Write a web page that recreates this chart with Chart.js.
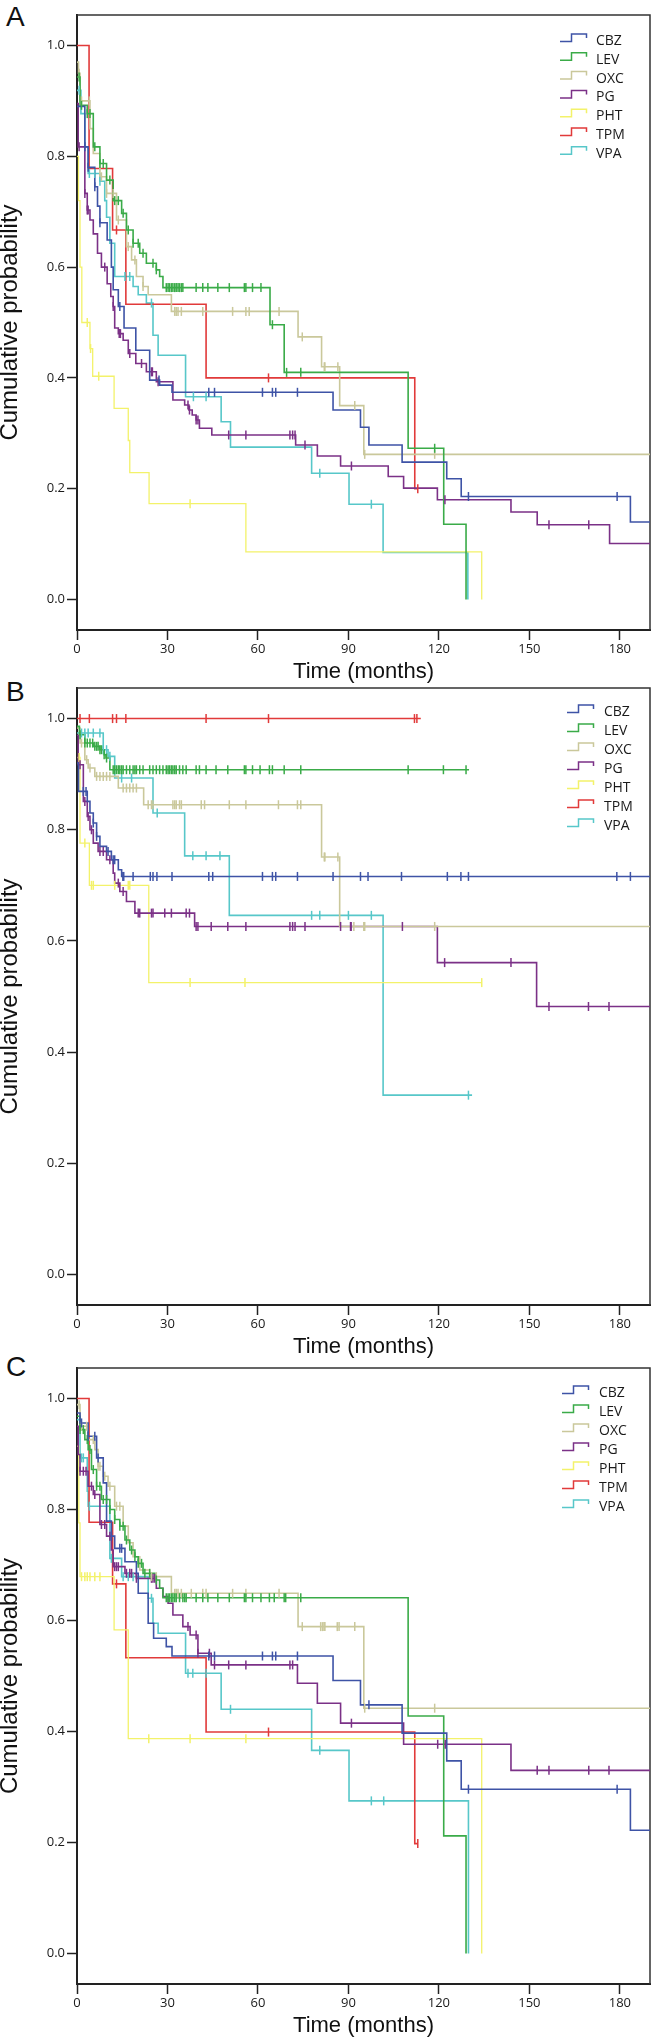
<!DOCTYPE html>
<html>
<head>
<meta charset="utf-8">
<script src="https://cdn.jsdelivr.net/npm/chart.js@4.4.1/dist/chart.umd.min.js"></script>
<style>
  body { margin: 0; background: #fff; width: 656px; height: 2040px; position: relative; overflow: hidden; }
  canvas { position: absolute; left: 0; }
  .letter { position: absolute; left: 6px; font: 28px "Liberation Sans", Arial, sans-serif; line-height: 28px; color: #111; }
</style>
</head>
<body>
<div class="letter" style="top:3px">A</div>
<div class="letter" style="top:678px">B</div>
<div class="letter" style="top:1353px">C</div>
<canvas id="chartA" width="656" height="685" style="top:0px"></canvas>
<canvas id="chartB" width="656" height="685" style="top:675px"></canvas>
<canvas id="chartC" width="656" height="685" style="top:1354px"></canvas>
<script>
// ---- data ----
const drugs = ['CBZ', 'LEV', 'OXC', 'PG', 'PHT', 'TPM', 'VPA'];
const months = [0, 30, 60, 90, 120, 150, 180];
const probTicks = [0, 0.2, 0.4, 0.6, 0.8, 1.0];

// step curves: [time, survival after the step]
// panel A
const cbzA = [[0,0.89],[2.6,0.817],[3.7,0.78],[5.9,0.745],[6.8,0.71],[7.6,0.68],[10,0.649],[11.4,0.6],[12,0.559],[13.7,0.529],[15.6,0.49],[19.5,0.45],[24.1,0.396],[27.4,0.387],[31.5,0.374],[84.9,0.342],[94,0.311],[96.8,0.279],[107.8,0.248],[122.6,0.218],[127.4,0.186],[183.5,0.14],[190,0.14]];
const levA = [[0,0.943],[1,0.892],[3.4,0.877],[5.4,0.817],[7.6,0.787],[9.8,0.757],[12,0.72],[14.8,0.697],[16.4,0.667],[18.6,0.643],[20.8,0.625],[23,0.607],[26.3,0.595],[27.4,0.583],[28.5,0.563],[64,0.496],[68.7,0.41],[109.8,0.273],[121.6,0.136],[129,0]];
const oxcA = [[0,0.97],[0.5,0.95],[1,0.9],[4.3,0.85],[5.4,0.805],[7.6,0.763],[9.8,0.733],[13.1,0.685],[16.4,0.637],[18.1,0.613],[19.7,0.583],[21.9,0.565],[23.6,0.55],[31.3,0.52],[73.3,0.474],[81.1,0.42],[87.1,0.35],[95.1,0.262],[190,0.262]];
const pgA = [[0,0.895],[0.4,0.817],[2.6,0.733],[3.4,0.703],[4.3,0.685],[5.4,0.66],[6.8,0.625],[8.1,0.6],[10,0.57],[11.2,0.547],[12,0.529],[12.5,0.49],[13.7,0.48],[15.3,0.468],[17,0.444],[19.5,0.426],[23,0.411],[26.3,0.393],[31.8,0.36],[35.7,0.351],[37.1,0.342],[38.2,0.333],[39.5,0.324],[40.6,0.309],[44.7,0.297],[72.5,0.279],[79.7,0.259],[87.4,0.241],[103.2,0.222],[108.3,0.201],[119.5,0.18],[143.9,0.158],[152.6,0.135],[176.6,0.101],[190,0.101]];
const phtA = [[0,0.8],[0.5,0.72],[1,0.6],[1.6,0.5],[4.3,0.453],[5.2,0.403],[12.3,0.345],[17,0.287],[17.5,0.229],[23.9,0.173],[56,0.086],[134.2,0]];
const tpmA = [[0,1],[4,0.778],[11.8,0.667],[16.2,0.533],[42.8,0.4],[112,0.2],[113,0.2]];
const vpaA = [[0,0.919],[1.3,0.877],[2.6,0.817],[3.7,0.769],[7.6,0.755],[9.2,0.72],[9.8,0.69],[10.9,0.643],[12.5,0.583],[18.6,0.565],[20.3,0.55],[23,0.535],[25.2,0.477],[26.9,0.441],[36,0.366],[47.8,0.321],[50.9,0.275],[77.8,0.228],[90.2,0.172],[101.5,0.085],[129.6,0]];
// censored times, panel A
const cbzACens = [2.6,3.7,5.9,7.6,14.2,27.2,43.7,45.6,61.5,64.8,65.9,73.1,129.8,179.1];
const levACens = [0.7,1.5,3.4,4.3,5.9,7.6,8.7,10.9,12.5,13.7,15.3,17,18.6,20.3,21.9,25.2,26.3,29.6,30.2,30.7,31.3,31.8,32.4,32.9,33.5,34,34.6,35.1,39.5,41.7,43.4,46.7,50.5,55.5,56,58.2,61,64.8,69.5,74.2,118.6];
const oxcACens = [0.7,1.5,4.1,8.1,9.8,12,13.7,17,19.2,21.9,32.4,32.9,33.5,34.6,41.7,51.6,56,57.1,67,74.7,82,82.2,86.5,92.1,95.4,118.6];
const pgACens = [0.7,2.6,3.4,3.7,9.2,12,14,14.4,17.5,21.4,24.7,25,26.9,36.8,37.3,39.5,40.1,50.3,56,70.6,71.5,72.3,75.6,91,122,156.5,169.7];
const phtACens = [3.4,4.5,7.2,37.5];
const tpmACens = [13.1,63.5,113];
const vpaACens = [0.7,4.1,5.9,7.6,15.9,17.5,24.7,38.6,42.8,80.5,97.6];

// panel B
const cbzB = [[0,0.92],[0.5,0.869],[3.4,0.851],[4.3,0.83],[5.4,0.812],[6.5,0.788],[7.6,0.77],[9.8,0.761],[11.4,0.746],[13.7,0.728],[14.8,0.716],[190,0.716]];
const levB = [[0,0.986],[0.8,0.971],[2.6,0.956],[5.4,0.95],[7.6,0.944],[9,0.935],[9.6,0.929],[10.9,0.908],[130,0.908]];
const oxcB = [[0,0.983],[1,0.956],[2.6,0.926],[3.7,0.911],[5.9,0.896],[13.7,0.875],[22.1,0.845],[81.1,0.751],[87.1,0.626],[190,0.626]];
const pgB = [[0,0.97],[0.4,0.917],[2.1,0.851],[3.4,0.824],[4.3,0.8],[5.4,0.776],[7,0.761],[9.8,0.746],[12,0.722],[12.5,0.704],[14.2,0.689],[16.4,0.671],[19.2,0.65],[39,0.626],[119.5,0.561],[152.4,0.482],[190,0.482]];
const phtB = [[0,0.93],[1,0.776],[4.1,0.7],[23.8,0.525],[134.2,0.525]];
const tpmB = [[0,1],[114,1]];
const vpaB = [[0,0.974],[8.7,0.944],[10.3,0.932],[12.5,0.893],[25.2,0.83],[35.7,0.753],[50.5,0.646],[101.5,0.3225],[131,0.3225]];
const cbzBCens = [2.1,3,5.4,6.5,10.3,12,12.5,15.2,15.5,18.6,24.3,25.2,26.5,31.5,43.7,45,61.5,64.8,65.9,73.1,84.9,94,96.5,107.6,122.8,127.3,129.8,179,183.5];
const levBCens = [1,2.6,3.4,4.3,5.2,5.9,6.5,7,7.6,8.1,9,9.8,12,12.5,13.1,13.7,14.2,14.8,15.3,16.4,17.5,18.6,19.2,19.7,20.8,21.9,24.1,25.2,26.3,27.4,28.5,29.6,30.2,30.7,31.3,31.8,32.4,32.9,34,35.1,36.2,39.5,40.6,42.8,46.1,50,55.5,56,58.2,60.7,63.8,64.8,68.7,74.2,109.8,121.5,129];
const oxcBCens = [1.5,3.2,4.3,6.5,7.6,8.7,9.8,10.9,15.3,16.4,17.5,18.6,19.7,23.6,24.7,25.2,31.8,32.4,32.9,34,34.6,41.2,42.3,50.5,56,66.8,73.1,74.2,82,82.2,86.5,91.8,95.1,95.4,118.6];
const pgBCens = [1,2.6,3.7,4.8,7.6,8.7,10.9,13.7,15.3,20.3,20.8,24.7,25.2,29.1,31.3,36.2,37.3,39.5,40.1,44.5,50,56,70.6,71.5,72.3,75.6,87.4,90.7,90.9,107.9,121.9,143.9,156.5,169.6,176.4];
const phtBCens = [0.7,2.6,4.8,5.4,12.5,17,17.5,37.5,55.7,134.2];
const tpmBCens = [1,4.1,11.8,13.1,16.2,42.8,63.5,111.9,112.7];
const vpaBCens = [1.5,2.6,3.7,5.4,7.6,8.7,9.8,10.9,14.8,18.1,26.6,38.4,42.8,47.4,77.8,80.5,90,97.6,129.8];

// panel C
const cbzC = [[0,0.974],[1,0.956],[3.7,0.932],[6.5,0.893],[8.7,0.848],[9.8,0.779],[11.4,0.752],[12.5,0.73],[15.9,0.706],[19.7,0.685],[20.3,0.649],[23.6,0.595],[25.4,0.568],[29.6,0.553],[31.5,0.536],[84.9,0.492],[94,0.448],[107.8,0.397],[122.6,0.347],[127.4,0.296],[183.5,0.222],[190,0.222]];
const levC = [[0,0.968],[1,0.944],[2.6,0.926],[3.7,0.908],[4.8,0.872],[6.5,0.842],[8.1,0.818],[10.9,0.8],[12.5,0.782],[14.2,0.77],[15.9,0.745],[17.5,0.727],[19.2,0.715],[20.3,0.703],[21.9,0.685],[25.8,0.673],[27.4,0.658],[28.5,0.641],[109.8,0.428],[121.6,0.212],[129,0]];
const oxcC = [[0,0.989],[1,0.95],[3.7,0.926],[5.9,0.908],[7,0.878],[8.7,0.86],[10.3,0.842],[12.5,0.806],[15.3,0.77],[17,0.74],[18.6,0.715],[20.8,0.691],[24.1,0.679],[31.3,0.649],[73.3,0.589],[95.1,0.442],[190,0.442]];
const pgC = [[0,0.95],[0.4,0.899],[1,0.869],[3.7,0.842],[5.4,0.827],[7.6,0.773],[9.8,0.752],[11.4,0.727],[12,0.697],[15.9,0.685],[19.7,0.676],[26.3,0.658],[28.5,0.643],[30.2,0.631],[31.8,0.61],[35.1,0.589],[37.5,0.574],[40.1,0.541],[44.5,0.52],[73.1,0.487],[79.7,0.451],[87.4,0.415],[108.3,0.377],[143.9,0.33],[190,0.33]];
const phtC = [[0,0.914],[0.6,0.776],[1,0.679],[12.3,0.583],[17,0.387],[134.2,0]];
const tpmC = [[0,1],[4,0.777],[11.8,0.666],[16.2,0.533],[42.8,0.399],[112,0.198],[113,0.198]];
const vpaC = [[0,0.962],[1,0.893],[3.4,0.833],[3.7,0.806],[10.9,0.712],[14.8,0.679],[23.6,0.64],[25.2,0.595],[26.9,0.577],[36,0.505],[47.8,0.44],[77.8,0.366],[90.2,0.275],[129.8,0]];
const cbzCCens = [1.5,3.7,5.9,7,11.4,14.2,14.8,43.7,45.6,61.5,64.8,65.9,73.1,96.8,129.8,179.1];
const levCCens = [1,2.1,3.4,4.3,5.4,6.5,7.6,8.7,9.8,10.9,12.5,14.2,15.3,16.4,18.1,19.2,20.3,21.4,22.5,24.1,26.3,29.6,30.2,30.7,31.3,31.8,32.4,32.9,34,35.1,35.7,36.2,39.5,41.7,43.4,46.7,50.5,55.5,56,58.2,61,63.8,65.4,68.7,69.2,74.2];
const oxcCCens = [0.7,1.5,3.2,5.4,7,7.6,9.2,10.9,13.1,14.2,24.7,26.3,32.4,32.9,33.5,34.6,37.9,41.7,42.8,51.6,56,67,74.7,80.8,81.4,81.9,82.2,86.3,86.9,92.1,95.4,118.6];
const pgCCens = [1,2.1,3,4.8,5.9,8.1,9.2,10.9,12.5,13.1,13.7,16.4,17.5,18.1,19.7,24.7,25.2,25.8,36.8,39.5,40.1,43.9,45.6,50.3,56,70.6,71.5,91,119.6,122.1,152.6,156.5,169.7,176.4];
const phtCCens = [1.5,2.6,3.4,4.3,5.9,7.6,23.8,37.5,56];
const tpmCCens = [13.1,63.5,113];
const vpaCCens = [1.5,2.1,4.1,11.4,15.3,17,18.6,24.7,36.8,38.4,42.8,50.9,80.5,97.6,101.7];

// ---- styling ----
const colors = ['#3e53a6', '#3aab48', '#cac89b', '#7b3187', '#f3f26a', '#e13a3a', '#57c7c9'];
const tickFont = { family: '"Open Sans", sans-serif', size: 13 };
const titleFont = '"Liberation Sans", Arial, sans-serif';

// survival value of a step curve at time t
function yAt(curve, t) {
  let s = curve[0][1];
  for (const p of curve) {
    if (p[0] <= t) s = p[1]; else break;
  }
  return s;
}

const framePlugin = {
  id: 'frame',
  beforeDatasetsDraw(chart) {
    const { ctx, chartArea: a } = chart;
    ctx.save();
    ctx.strokeStyle = '#333';
    ctx.lineWidth = 1.5;
    ctx.beginPath();
    ctx.moveTo(a.left, a.top);
    ctx.lineTo(a.right, a.top);
    ctx.lineTo(a.right, a.bottom);
    ctx.stroke();
    ctx.restore();
  }
};

// legend with the little step icon, drawn inside the plot
const stepLegend = {
  id: 'stepLegend',
  afterDraw(chart, args, opts) {
    const { ctx, chartArea: a } = chart;
    const x0 = a.right + opts.dx, y0 = a.top + opts.dy;
    ctx.save();
    chart.data.datasets.filter(d => !d.isCensor).forEach((d, i) => {
      const y = y0 + i * opts.gap;
      ctx.strokeStyle = d.borderColor;
      ctx.lineWidth = 1.5;
      ctx.beginPath();
      ctx.moveTo(x0, y + 0.5);
      ctx.lineTo(x0 + 11.5, y + 0.5);
      ctx.lineTo(x0 + 11.5, y - 7);
      ctx.lineTo(x0 + 26.5, y - 7);
      ctx.lineTo(x0 + 26.5, y - 3);
      ctx.stroke();
      ctx.fillStyle = '#1a1a1a';
      ctx.font = '14px "Open Sans", sans-serif';
      ctx.textBaseline = 'middle';
      ctx.fillText(d.label, x0 + opts.textDx, y);
    });
    ctx.restore();
  }
};

function makeChart(id, curves, cens, padTop, legendPos) {
  const datasets = [];
  drugs.forEach((name, i) => {
    datasets.push({
      label: name,
      data: curves[i].map(p => ({ x: p[0], y: p[1] })),
      borderColor: colors[i],
      borderWidth: name === 'PHT' ? 1.3 : 1.6,
      pointRadius: 0,
      stepped: true,
      fill: false,
      order: 1
    });
  });
  drugs.forEach((name, i) => {
    datasets.push({
      label: name + ' censored',
      isCensor: true,
      data: cens[i].map(t => ({ x: t, y: yAt(curves[i], t) })),
      showLine: false,
      borderColor: colors[i],
      pointStyle: 'line',
      pointRotation: 90,
      pointRadius: 4.5,
      pointBorderWidth: 1.5,
      pointBorderColor: colors[i],
      order: 0
    });
  });

  return new Chart(document.getElementById(id), {
    type: 'line',
    data: { datasets },
    options: {
      responsive: false,
      animation: false,
      events: [],
      layout: { padding: { top: padTop, right: 4, left: 0, bottom: 0 } },
      plugins: {
        legend: { display: false },
        tooltip: { enabled: false },
        stepLegend: legendPos
      },
      scales: {
        x: {
          type: 'linear',
          min: 0,
          max: 190,
          afterBuildTicks: s => { s.ticks = months.map(v => ({ value: v })); },
          afterFit: s => { s.height = 55; },
          ticks: { font: tickFont, color: '#1a1a1a', padding: 1, maxRotation: 0 },
          grid: { drawOnChartArea: false, drawTicks: true, tickLength: 10, tickColor: '#222', tickWidth: 1.5 },
          border: { display: true, color: '#222', width: 2 },
          title: { display: true, text: 'Time (months)', color: '#111', font: { family: titleFont, size: 22 }, padding: 0 }
        },
        y: {
          min: -0.055,
          max: 1.055,
          afterBuildTicks: s => { s.ticks = probTicks.map(v => ({ value: v })); },
          afterFit: s => { s.width = 77; },
          ticks: { font: tickFont, color: '#1a1a1a', padding: 2, callback: v => v.toFixed(1) },
          grid: { drawOnChartArea: false, drawTicks: true, tickLength: 10, tickColor: '#222', tickWidth: 1.5 },
          border: { display: true, color: '#222', width: 2 },
          title: { display: true, text: 'Cumulative probability', color: '#111', font: { family: titleFont, size: 24, lineHeight: 0.85 }, padding: 0 }
        }
      }
    },
    plugins: [framePlugin, stepLegend]
  });
}

makeChart('chartA', [cbzA, levA, oxcA, pgA, phtA, tpmA, vpaA],
  [cbzACens, levACens, oxcACens, pgACens, phtACens, tpmACens, vpaACens],
  15, { dx: -90, dy: 26, gap: 18.8, textDx: 36 });
makeChart('chartB', [cbzB, levB, oxcB, pgB, phtB, tpmB, vpaB],
  [cbzBCens, levBCens, oxcBCens, pgBCens, phtBCens, tpmBCens, vpaBCens],
  13, { dx: -83, dy: 24, gap: 19, textDx: 37 });
makeChart('chartC', [cbzC, levC, oxcC, pgC, phtC, tpmC, vpaC],
  [cbzCCens, levCCens, oxcCCens, pgCCens, phtCCens, tpmCCens, vpaCCens],
  14, { dx: -88, dy: 25, gap: 19, textDx: 37 });
</script>
</body>
</html>
